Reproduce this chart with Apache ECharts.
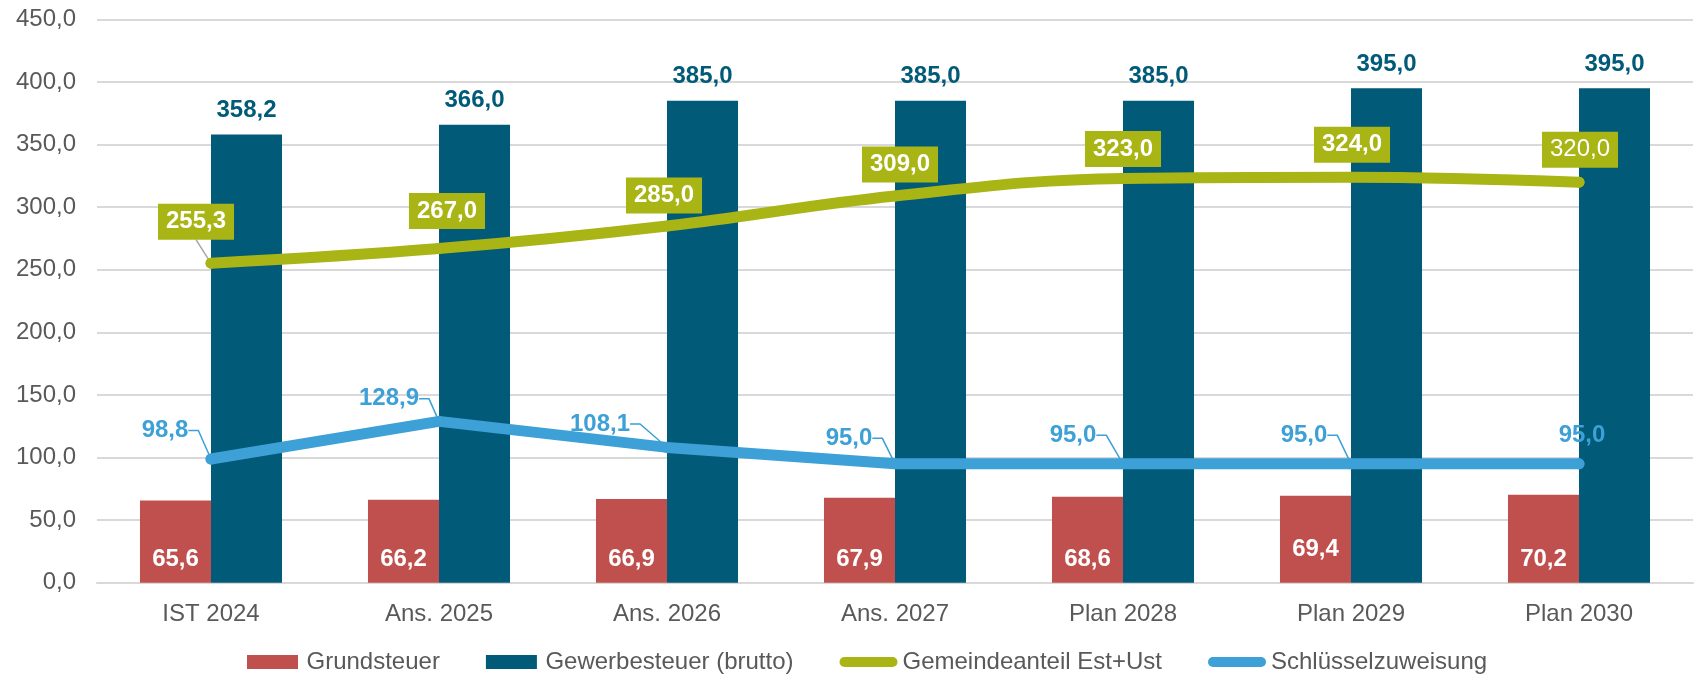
<!DOCTYPE html>
<html>
<head>
<meta charset="utf-8">
<script src="https://cdn.jsdelivr.net/npm/echarts@6/dist/echarts.min.js"></script>
<style>
  html, body { margin: 0; padding: 0; background: #fff; }
  #chart { width: 1700px; height: 681px; }
</style>
</head>
<body>
<div id="chart"></div>
<script>
// data
const categories = ['IST 2024', 'Ans. 2025', 'Ans. 2026', 'Ans. 2027', 'Plan 2028', 'Plan 2029', 'Plan 2030'];
const grundsteuer = [65.6, 66.2, 66.9, 67.9, 68.6, 69.4, 70.2];
const gewerbesteuer = [358.2, 366.0, 385.0, 385.0, 385.0, 395.0, 395.0];
const gemeindeanteil = [255.3, 267.0, 285.0, 309.0, 323.0, 324.0, 320.0];
const schluessel = [98.8, 128.9, 108.1, 95.0, 95.0, 95.0, 95.0];

// label shifts (px) like in the original
const gemShift = [[-15, -10], [8, -6], [-3, 1], [5, 0], [0, 2], [1, -1], [1, -1]];
const schShift = [[-46, 0], [-50, 6], [-67, 5], [-46, 3], [-50, 0], [-47, 0], [3, 0]];

const FONT = '"Liberation Sans", Arial, sans-serif';
const C_RED = '#C0504D', C_DARK = '#005A78', C_OLIVE = '#A9B415', C_BLUE = '#3DA0D6';

const fmt = v => Number(v).toFixed(1).replace('.', ',');

// legend icons: rect for bars, rounded bar for lines
const ICON_RECT = 'path://M0,0H51V14H0Z';
const ICON_LINE = 'path://M5,0H53A5,5,0,0,1,53,10H5A5,5,0,0,1,5,0Z';

const chart = echarts.init(document.getElementById('chart'));

let option = {
  animation: false,
  textStyle: { fontFamily: FONT },
  grid: { left: 97, right: 7, top: 19.5, bottom: 98.3 },
  legend: {
    top: 645,
    left: 242,
    itemWidth: 58,
    itemHeight: 14,
    itemGap: 46,
    textStyle: { fontFamily: FONT, fontSize: 24, color: '#595959', padding: [0, 0, 0, 0] },
    data: [
      { name: 'Grundsteuer', icon: ICON_RECT },
      { name: 'Gewerbesteuer (brutto)', icon: ICON_RECT },
      { name: 'Gemeindeanteil Est+Ust', icon: ICON_LINE },
      { name: 'Schlüsselzuweisung', icon: ICON_LINE }
    ]
  },
  xAxis: {
    type: 'category',
    data: categories,
    axisTick: { show: false },
    axisLine: { lineStyle: { color: '#D9D9D9', width: 2 } },
    axisLabel: { fontFamily: FONT, fontSize: 24, color: '#595959', margin: 20 }
  },
  yAxis: {
    type: 'value',
    min: 0,
    max: 450,
    interval: 50,
    axisLine: { show: false },
    axisTick: { show: false },
    splitLine: { lineStyle: { color: '#D9D9D9', width: 2 } },
    axisLabel: { fontFamily: FONT, fontSize: 24, color: '#595959', margin: 21, formatter: fmt }
  },
  series: [
    {
      name: 'Grundsteuer',
      type: 'bar',
      barGap: '0%',
      barCategoryGap: '37.7%',
      itemStyle: { color: C_RED },
      label: {
        show: true,
        position: 'insideBottom',
        distance: 11,
        fontFamily: FONT, fontSize: 24, fontWeight: 'bold', color: '#fff',
        formatter: p => fmt(p.value)
      },
      data: grundsteuer.map((v, i) => i == 5 ? { value: v, label: { distance: 21 } } : v)
    },
    {
      name: 'Gewerbesteuer (brutto)',
      type: 'bar',
      itemStyle: { color: C_DARK },
      label: {
        show: true,
        position: 'top',
        distance: 12,
        fontFamily: FONT, fontSize: 24, fontWeight: 'bold', color: C_DARK,
        formatter: p => fmt(p.value)
      },
      data: gewerbesteuer
    },
    {
      name: 'Gemeindeanteil Est+Ust',
      type: 'line',
      smooth: 0.4,
      symbol: 'circle',
      symbolSize: 11,
      z: 4,
      itemStyle: { color: C_OLIVE },
      lineStyle: { color: C_OLIVE, width: 11, cap: 'round' },
      label: {
        show: true,
        position: 'top',
        distance: 8,
        fontFamily: FONT, fontSize: 24, fontWeight: 'bold', color: '#fff',
        lineHeight: 24,
        backgroundColor: C_OLIVE,
        padding: [6, 8],
        formatter: p => fmt(p.value)
      },
      labelLine: { show: true, length2: 0, lineStyle: { color: '#A6A6A6', width: 1.5 } },
      labelLayout: p => ({ dx: gemShift[p.dataIndex][0], dy: gemShift[p.dataIndex][1] }),
      data: gemeindeanteil.map((v, i) => ({
        value: v,
        labelLine: { show: i == 0 },
        label: i == 6 ? { fontWeight: 'normal' } : {}
      }))
    },
    {
      name: 'Schlüsselzuweisung',
      type: 'line',
      symbol: 'circle',
      symbolSize: 11,
      z: 3,
      itemStyle: { color: C_BLUE },
      lineStyle: { color: C_BLUE, width: 11, cap: 'round' },
      label: {
        show: true,
        position: 'top',
        distance: 11,
        fontFamily: FONT, fontSize: 24, fontWeight: 'bold', color: C_BLUE,
        formatter: p => fmt(p.value)
      },
      labelLine: { show: true, length2: 10, lineStyle: { color: C_BLUE, width: 1.5 } },
      labelLayout: p => ({ dx: schShift[p.dataIndex][0], dy: schShift[p.dataIndex][1] }),
      data: schluessel.map((v, i) => ({ value: v, labelLine: { show: i < 6 } }))
    }
  ]
};

chart.setOption(option);
</script>
</body>
</html>
